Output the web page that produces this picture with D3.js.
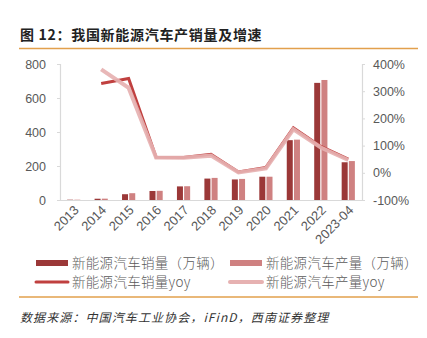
<!DOCTYPE html>
<html>
<head>
<meta charset="utf-8">
<script src="https://cdn.jsdelivr.net/npm/d3@7"></script>
<style>
  body { margin: 0; background: #fff; }
  svg { display: block; }
</style>
</head>
<body>
<div id="chart"></div>
<script>
"use strict";

// categories and values
let years = ["2013", "2014", "2015", "2016", "2017", "2018", "2019", "2020", "2021", "2022", "2023-04"];
let sales = [1.8, 7.5, 34, 53, 80, 126, 121, 137, 352, 689, 222];
let production = [1.8, 7.9, 40, 54, 81, 130, 124, 137, 355, 706, 229];
let salesYoy = [null, 328, 347, 57, 56, 68, 3, 20, 165, 97, 50];
let prodYoy = [null, 380, 312, 56, 55, 63, 1, 16, 160, 93, 47];
let leftTicks = [0, 200, 400, 600, 800];
let rightTicks = [-100, 0, 100, 200, 300, 400];

let W = 427, H = 338;
let svg = d3.select("#chart").append("svg")
    .attr("width", W)
    .attr("height", H);

let cjk = "'Noto Sans CJK SC', sans-serif";
let latin = "'Liberation Sans', Arial, sans-serif";
let grey = "#595959";

// title
svg.append("text")
    .attr("x", 20).attr("y", 40)
    .attr("font-family", cjk)
    .attr("font-size", 14)
    .attr("font-weight", "bold")
    .attr("letter-spacing", 0.7)
    .attr("fill", "#222")
    .text("图 12：我国新能源汽车产销量及增速");

svg.append("line")
    .attr("x1", 19).attr("x2", 418)
    .attr("y1", 48.5).attr("y2", 48.5)
    .attr("stroke", "#e2a04c").attr("stroke-width", 1.5);

// scales
let x = d3.scaleBand().domain(years).range([60, 362]);
let yL = d3.scaleLinear().domain([0, 800]).range([200, 64]);
let yR = d3.scaleLinear().domain([-100, 400]).range([200, 64]);

// axes
let axisColor = "#d9d9d9";
let gl = svg.append("g").attr("transform", "translate(60,0)")
    .call(d3.axisLeft(yL).tickValues(leftTicks).tickSize(3).tickPadding(11));
let gr = svg.append("g").attr("transform", "translate(362,0)")
    .call(d3.axisRight(yR).tickValues(rightTicks).tickSize(3).tickPadding(8)
        .tickFormat(d => d + "%"));
[gl, gr].forEach(g => {
    g.select(".domain").attr("stroke", axisColor).attr("stroke-width", 1.2);
    g.selectAll(".tick line").attr("stroke", axisColor);
    g.selectAll(".tick text")
        .attr("font-family", latin)
        .attr("font-size", 12.5)
        .attr("fill", grey);
});

let gx = svg.append("g").attr("transform", "translate(0,200)")
    .call(d3.axisBottom(x).tickSize(0).tickPadding(0));
gx.select(".domain").attr("stroke", axisColor).attr("stroke-width", 1.2);
gx.selectAll(".tick text")
    .attr("font-family", latin)
    .attr("font-size", 13)
    .attr("fill", grey)
    .attr("text-anchor", "end")
    .attr("dy", 0)
    .attr("transform", "translate(6,11) rotate(-45)");

// bars
let darkBar = "#9b3838";
let lightBar = "#cf8181";
let bw = 6, gap = 1.2;

svg.append("g").selectAll("rect")
    .data(years)
    .join("rect")
    .attr("x", d => x(d) + x.bandwidth() / 2 - bw - gap / 2)
    .attr("y", (d, i) => yL(sales[i]))
    .attr("width", bw)
    .attr("height", (d, i) => yL(0) - yL(sales[i]))
    .attr("fill", darkBar);

svg.append("g").selectAll("rect")
    .data(years)
    .join("rect")
    .attr("x", d => x(d) + x.bandwidth() / 2 + gap / 2)
    .attr("y", (d, i) => yL(production[i]))
    .attr("width", bw)
    .attr("height", (d, i) => yL(0) - yL(production[i]))
    .attr("fill", lightBar);

// yoy lines
let darkLine = "#c0403f";
let lightLine = "#e6b1b1";
let line = d3.line()
    .defined(d => d.v != null)
    .x(d => x(d.k) + x.bandwidth() / 2)
    .y(d => yR(d.v));

svg.append("path")
    .datum(years.map((k, i) => ({k: k, v: salesYoy[i]})))
    .attr("d", line)
    .attr("fill", "none")
    .attr("stroke", darkLine)
    .attr("stroke-width", 3);

svg.append("path")
    .datum(years.map((k, i) => ({k: k, v: prodYoy[i]})))
    .attr("d", line)
    .attr("fill", "none")
    .attr("stroke", lightLine)
    .attr("stroke-width", 4)
    .attr("opacity", 0.92);

// legend
let legend = [
    {label: "新能源汽车销量（万辆）", kind: "rect", color: darkBar, lx: 36, ly: 263},
    {label: "新能源汽车产量（万辆）", kind: "rect", color: lightBar, lx: 230, ly: 263},
    {label: "新能源汽车销量yoy", kind: "line", color: darkLine, lx: 36, ly: 282},
    {label: "新能源汽车产量yoy", kind: "line", color: lightLine, lx: 230, ly: 282}
];
let lg = svg.append("g").selectAll("g").data(legend).join("g")
    .attr("transform", d => `translate(${d.lx},${d.ly})`);
lg.filter(d => d.kind === "rect").append("rect")
    .attr("x", 0).attr("y", -3).attr("width", 32).attr("height", 6)
    .attr("fill", d => d.color);
lg.filter(d => d.kind === "line").append("line")
    .attr("x1", 0).attr("x2", 32).attr("y1", 0).attr("y2", 0)
    .attr("stroke", d => d.color)
    .attr("stroke-width", d => d.color === darkLine ? 3 : 4)
    .attr("stroke-linecap", "round");
lg.append("text")
    .attr("x", 36).attr("y", 0).attr("dy", "0.36em")
    .attr("font-family", cjk)
    .attr("font-size", 13.5)
    .attr("font-weight", 300)
    .attr("letter-spacing", 0.3)
    .attr("fill", grey)
    .text(d => d.label);

// source
svg.append("line")
    .attr("x1", 19).attr("x2", 418)
    .attr("y1", 297).attr("y2", 297)
    .attr("stroke", "#e2a04c").attr("stroke-width", 1.5);

svg.append("text")
    .attr("x", 20).attr("y", 322)
    .attr("font-family", cjk)
    .attr("font-size", 12)
    .attr("font-style", "italic")
    .attr("letter-spacing", 1.1)
    .attr("fill", "#333")
    .text("数据来源：中国汽车工业协会，iFinD，西南证券整理");
</script>
</body>
</html>
